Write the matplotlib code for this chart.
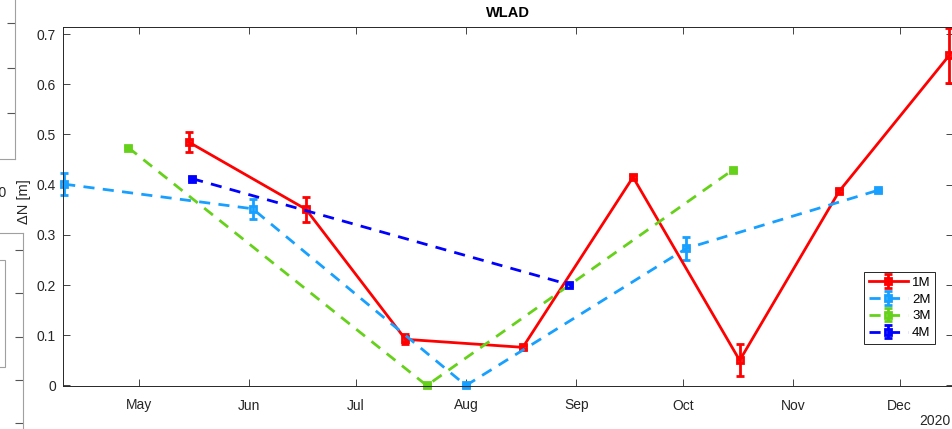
import datetime as dt
import matplotlib
matplotlib.use("Agg")
import matplotlib.pyplot as plt
from matplotlib.patches import Rectangle

plt.rcParams['font.family'] = ['Liberation Sans', 'DejaVu Sans']

# data (2020)
d1 = ['2020-05-15', '2020-06-17', '2020-07-15', '2020-08-17',
      '2020-09-17', '2020-10-17', '2020-11-14', '2020-12-15']
v1 = [0.485, 0.351, 0.092, 0.076, 0.415, 0.050, 0.387, 0.658]
e1 = [0.020, 0.025, 0.010, 0.004, 0.004, 0.032, 0.004, 0.055]

d2 = ['2020-04-10', '2020-06-02', '2020-08-01', '2020-10-02', '2020-11-25']
v2 = [0.401, 0.352, 0.000, 0.273, 0.389]
e2 = [0.022, 0.020, 0.003, 0.023, 0.003]

d3 = ['2020-04-28', '2020-07-21', '2020-10-15']
v3 = [0.474, 0.000, 0.429]
e3 = [0.003, 0.003, 0.003]

d4 = ['2020-05-16', '2020-08-30']
v4 = [0.412, 0.201]
e4 = [0.003, 0.003]

labels = ['1M', '2M', '3M', '4M']
colors = ['#FF0000', '#17A0FF', '#66D11A', '#0000FF']
month_ticks = ['2020-05-01', '2020-06-01', '2020-07-01', '2020-08-01',
               '2020-09-01', '2020-10-01', '2020-11-01', '2020-12-01']
month_labels = ['May', 'Jun', 'Jul', 'Aug', 'Sep', 'Oct', 'Nov', 'Dec']

def todate(lst):
    return [dt.datetime.strptime(s, '%Y-%m-%d') for s in lst]

W, H = 953, 429
fig = plt.figure(figsize=(W / 100, H / 100), dpi=100)

def px(l, t, r, b):
    return [l / W, 1 - b / H, (r - l) / W, (b - t) / H]

axc = '#262626'
ax = fig.add_axes(px(63, 27, 953, 386))

series = [(d1, v1, e1, '-'), (d2, v2, e2, '--'), (d3, v3, e3, '--'), (d4, v4, e4, '--')]
for (d, v, e, ls), c, lab in zip(series, colors, labels):
    eb = ax.errorbar(todate(d), v, yerr=e, color=c, ls=ls, lw=2, marker='s',
                     ms=5, mfc='none', mew=2, capsize=3, capthick=2,
                     elinewidth=2, label=lab, clip_on=False)
    if ls == '--':
        eb[0].set_dashes((4, 3))
    for art in eb[1] + eb[2]:
        art.set_clip_on(False)

ax.set_xlim(dt.datetime(2020, 4, 9, 16), dt.datetime(2020, 12, 16))
ax.set_ylim(-0.001, 0.714)
ax.set_yticks([0, 0.1, 0.2, 0.3, 0.4, 0.5, 0.6, 0.7])
ax.set_yticklabels(['0', '0.1', '0.2', '0.3', '0.4', '0.5', '0.6', '0.7'])
ax.set_xticks(todate(month_ticks))
ax.set_xticklabels(month_labels)
ax.tick_params(direction='in', length=5, width=0.6, top=True, right=True,
               colors=axc, labelcolor=axc, labelsize=10)
ax.tick_params(axis='x', pad=9)
ax.tick_params(axis='y', pad=5)
for s in ax.spines.values():
    s.set_color(axc)
    s.set_linewidth(0.7)

ax.set_title('WLAD', fontsize=10.5, fontweight='bold', pad=7)
fig.text(24 / W, 1 - 202 / H, 'ΔN [m]', rotation=90, ha='center', va='center',
         fontsize=10.5, color=axc)
fig.text(951 / W, 1 - 421 / H, '2020', ha='right', va='center', fontsize=10, color=axc)

leg = ax.legend(loc='upper left', bbox_to_anchor=(0.9, 0.318), fontsize=9.5,
                fancybox=False, framealpha=1, edgecolor=axc, handlelength=3.0,
                borderpad=0.35, labelspacing=0.35, handletextpad=0.3, borderaxespad=0)
leg.get_frame().set_linewidth(0.7)

# fragments of neighbouring subplots at the left edge
gray = '#A0A0A0'
axa = fig.add_axes(px(-100, -41, 15, 159))
axa.set_xticks([])
axa.set_ylim(0, 200)
axa.set_yticks([46, 91, 136])
axa.tick_params(axis='y', left=False, right=True, labelleft=False, direction='in',
                length=6, color='#555555')
for s in axa.spines.values():
    s.set_color(gray)
axb = fig.add_axes(px(-100, 233, 23, 480))
axb.set_xticks([])
axb.set_ylim(247, 0)
axb.set_yticks([17, 60, 104, 147, 190])
axb.tick_params(axis='y', left=False, right=True, labelleft=False, direction='in',
                length=6, color='#555555')
for s in axb.spines.values():
    s.set_color(gray)
fig.patches.append(Rectangle((-50 / W, 1 - 367 / H), 55 / W, 107 / H,
                             transform=fig.transFigure, fill=False,
                             edgecolor=gray, lw=0.8))
fig.text(7 / W, 1 - 193 / H, '2020', ha='right', va='center', fontsize=10, color=axc)

fig.savefig('out.png', dpi=100)
